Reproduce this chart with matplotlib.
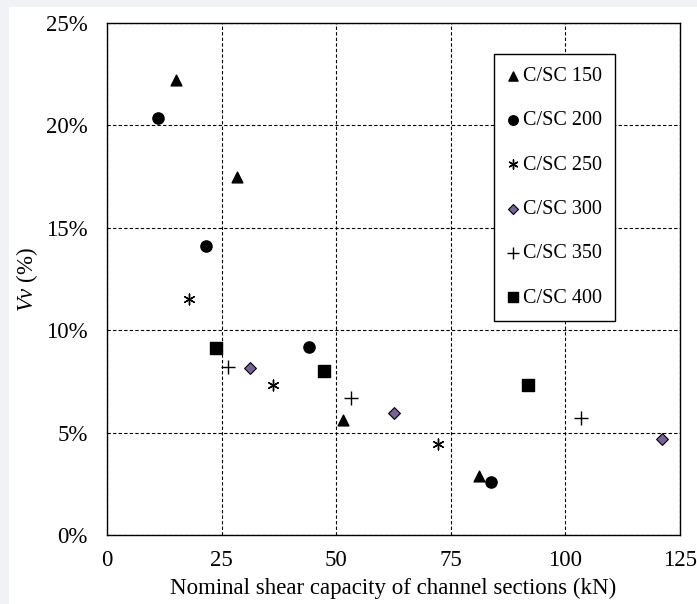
import matplotlib.pyplot as plt
from matplotlib.patches import Rectangle
from matplotlib.ticker import FuncFormatter

plt.rcParams["font.family"] = ["Liberation Serif", "DejaVu Serif"]
plt.rcParams["mathtext.fontset"] = "custom"
plt.rcParams["mathtext.it"] = "Liberation Serif:italic"
plt.rcParams["mathtext.rm"] = "Liberation Serif"

series_labels = ["C/SC 150", "C/SC 200", "C/SC 250", "C/SC 300", "C/SC 350", "C/SC 400"]

cs150_x = [15.1, 28.4, 51.4, 81.2]
cs150_y = [22.2, 17.5, 5.6, 2.9]
cs200_x = [11.2, 21.7, 44.0, 83.7]
cs200_y = [20.35, 14.1, 9.2, 2.57]
cs250_x = [17.9, 36.3, 72.1]
cs250_y = [11.5, 7.3, 4.45]
cs300_x = [31.2, 62.5, 121.0]
cs300_y = [8.17, 5.97, 4.67]
cs350_x = [26.5, 53.2, 103.5]
cs350_y = [8.2, 6.69, 5.7]
cs400_x = [23.7, 47.3, 91.9]
cs400_y = [9.11, 8.0, 7.32]

xs = [cs150_x, cs200_x, cs250_x, cs300_x, cs350_x, cs400_x]
ys = [cs150_y, cs200_y, cs250_y, cs300_y, cs350_y, cs400_y]
styles = [
    dict(marker="^", color="black", s=60),
    dict(marker="o", color="black", s=65),
    dict(marker=(6, 2, 0), color="black", s=60, linewidths=1.0),
    dict(marker="D", facecolor="#7b619b", edgecolor="black", s=36, linewidths=0.8),
    dict(marker="+", color="black", s=90, linewidths=1.0),
    dict(marker="s", color="black", s=65),
]

fig = plt.figure(figsize=(6.97, 6.04), dpi=100)
fig.patches.append(Rectangle((0, 0), 9 / 697, 1, transform=fig.transFigure,
                             facecolor="#f0f2f5", edgecolor="none", zorder=-10))
fig.patches.append(Rectangle((0, 1 - 7 / 604), 1, 7 / 604, transform=fig.transFigure,
                             facecolor="#f0f2f5", edgecolor="none", zorder=-10))

ax = fig.add_axes([107 / 697, 1 - 535 / 604, (680 - 107) / 697, (535 - 23) / 604])

for x, y, label, st in zip(xs, ys, series_labels, styles):
    ax.scatter(x, y, label=label, zorder=3, **st)

ax.set_xlim(0, 125)
ax.set_ylim(0, 25)
ax.set_xticks([0, 25, 50, 75, 100, 125])
ax.set_yticks([0, 5, 10, 15, 20, 25])
ax.yaxis.set_major_formatter(FuncFormatter(lambda v, p: f"{v:.0f}%"))
ax.tick_params(length=0, labelsize=16.5)
ax.tick_params(axis="x", pad=11)
ax.tick_params(axis="y", pad=14)
ax.grid(True, color="black", linestyle=(0, (3, 2)), linewidth=0.8)
ax.set_axisbelow(True)
for sp in ax.spines.values():
    sp.set_linewidth(1.0)
    sp.set_color("black")

ax.set_xlabel("Nominal shear capacity of channel sections (kN)", fontsize=16.5, labelpad=5)
ax.set_ylabel(r"$\mathit{Vv}$ (%)", fontsize=16.5, labelpad=4)

leg = ax.legend(loc="upper left", bbox_to_anchor=((494 - 107) / 573, 1 - (54 - 23) / 512),
                borderaxespad=0, frameon=True, fancybox=False, edgecolor="black",
                framealpha=1, fontsize=14.5, labelspacing=1.25, handletextpad=0.2,
                borderpad=0.65, handlelength=0.6, scatterpoints=1, markerscale=0.85)
leg.get_frame().set_linewidth(1.0)
leg.set_zorder(5)

fig.savefig("out.png", dpi=100)
